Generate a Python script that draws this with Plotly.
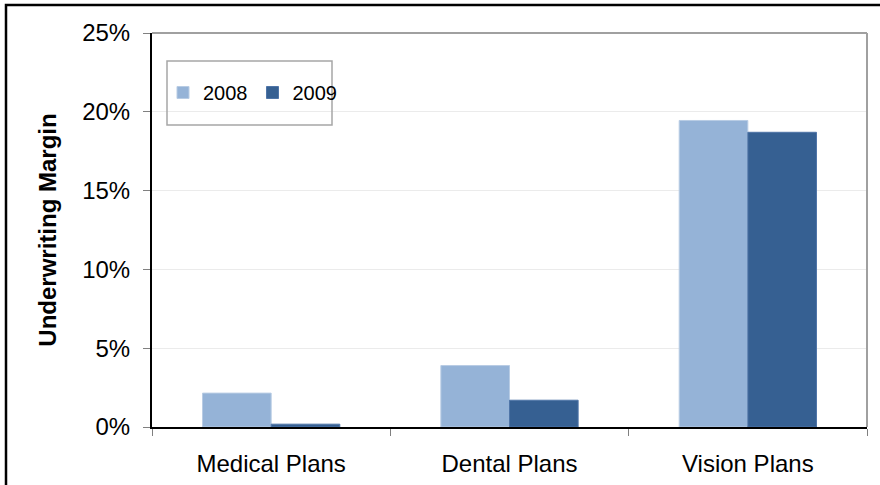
import plotly.graph_objects as go

# Underwriting margin by plan type, 2008 vs 2009
categories = ["Medical Plans", "Dental Plans", "Vision Plans"]
margin_2008 = [0.0215, 0.039, 0.1945]
margin_2009 = [0.0018, 0.017, 0.187]
y_ticks = [0, 0.05, 0.10, 0.15, 0.20, 0.25]

color_2008 = "#95B3D7"
color_2009 = "#366092"
font_family = "Liberation Sans, Arial, sans-serif"

fig = go.Figure()
fig.add_trace(go.Bar(
    name="2008", x=categories, y=margin_2008,
    marker=dict(color=color_2008, line=dict(color="#B8CCE4", width=1)),
))
fig.add_trace(go.Bar(
    name="2009", x=categories, y=margin_2009,
    marker=dict(color=color_2009, line=dict(color="#4F75A8", width=1)),
))

# plot-area geometry in pixels (used to place frame and legend box)
W, H = 880, 485
L, R, T, B = 152, 867, 33, 427


def px_x(px):
    return (px - L) / (R - L)


def px_y(py):
    return (B - py) / (B - T)


fig.update_layout(
    width=W, height=H,
    margin=dict(l=L, r=W - R, t=T, b=H - B, autoexpand=False),
    paper_bgcolor="white", plot_bgcolor="white",
    font=dict(family=font_family, color="black", size=24),
    barmode="group", bargap=0.424, bargroupgap=0,
    showlegend=True,
    legend=dict(
        orientation="h",
        x=px_x(163), y=px_y(73), xanchor="left", yanchor="top",
        font=dict(size=20),
        bgcolor="rgba(0,0,0,0)", borderwidth=0,
        itemclick=False,
    ),
    xaxis=dict(
        type="category",
        showline=True, linecolor="black", linewidth=2,
        ticks="outside", ticklen=7, tickcolor="#808080", tickwidth=1,
        tickson="boundaries",
        tickfont=dict(size=24),
        ticklabelstandoff=14,
        showgrid=False, automargin=False,
    ),
    yaxis=dict(
        range=[0, 0.25], tickvals=y_ticks, tickformat=".0%",
        showline=True, linecolor="black", linewidth=2,
        ticks="outside", ticklen=7, tickcolor="#808080", tickwidth=1,
        tickfont=dict(size=24),
        ticklabelstandoff=8,
        showgrid=True, gridcolor="#EBEBEB", gridwidth=1,
        zeroline=False, automargin=False,
        title=dict(text="<b>Underwriting Margin</b>", font=dict(size=24), standoff=19),
    ),
    shapes=[
        # top and right borders of the plot area
        dict(type="line", xref="paper", yref="paper", x0=0, x1=1, y0=1, y1=1,
             line=dict(color="#A0A0A0", width=2)),
        dict(type="line", xref="paper", yref="paper", x0=1, x1=1, y0=0, y1=1,
             line=dict(color="#A0A0A0", width=2)),
        # legend box
        dict(type="rect", xref="paper", yref="paper",
             x0=px_x(167), x1=px_x(332), y0=px_y(125), y1=px_y(61),
             line=dict(color="#A6A6A6", width=1.5), fillcolor="rgba(0,0,0,0)"),
        # outer chart frame
        dict(type="rect", xref="paper", yref="paper",
             x0=px_x(6), x1=px_x(890), y0=px_y(495), y1=px_y(5),
             line=dict(color="black", width=2.5), fillcolor="rgba(0,0,0,0)"),
    ],
)

fig.write_html("out.html")
